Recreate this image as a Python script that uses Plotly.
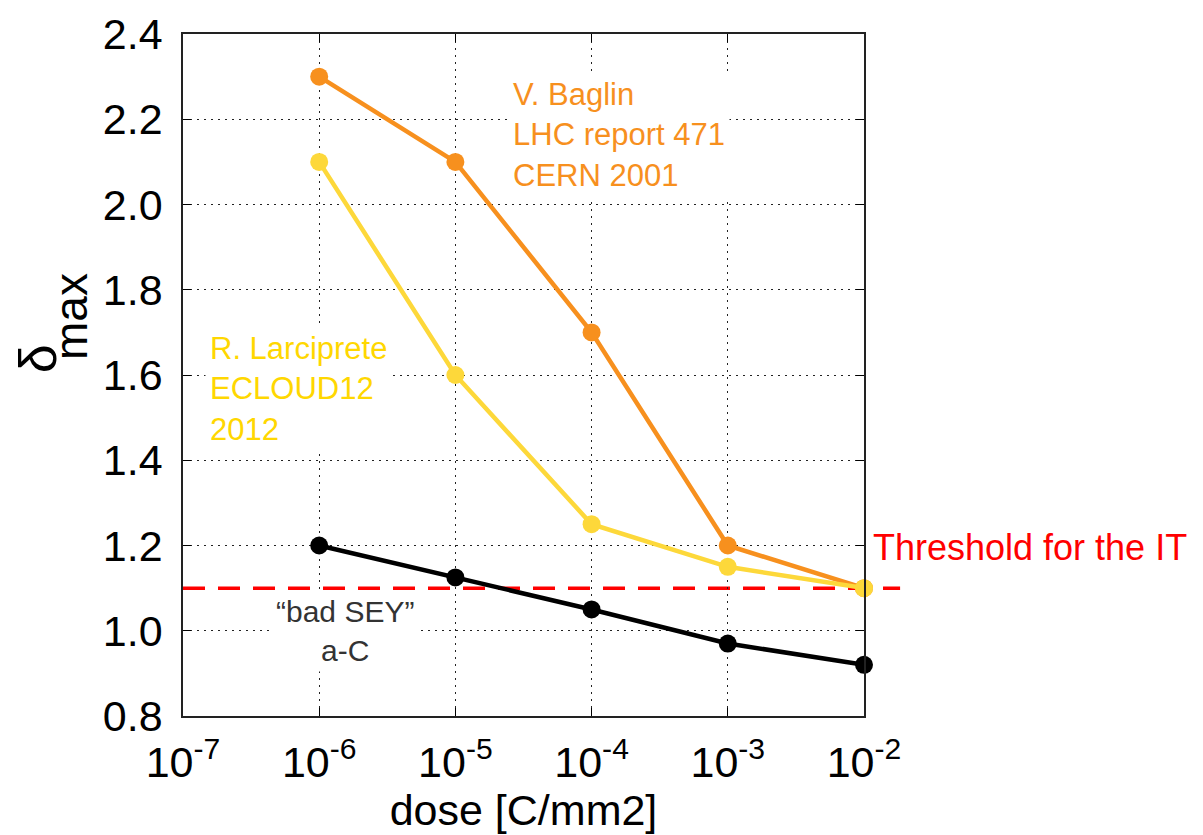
import plotly.graph_objects as go

dose = [1e-6, 1e-5, 1e-4, 1e-3, 1e-2]
baglin = [2.3, 2.1, 1.7, 1.2, 1.1]
larciprete = [2.1, 1.6, 1.25, 1.15, 1.1]
bad_sey = [1.2, 1.125, 1.05, 0.97, 0.92]
threshold = 1.1

x_tickvals = [1e-7, 1e-6, 1e-5, 1e-4, 1e-3, 1e-2]
x_ticktext = ["10<sup>-7</sup>", "10<sup>-6</sup>", "10<sup>-5</sup>",
              "10<sup>-4</sup>", "10<sup>-3</sup>", "10<sup>-2</sup>"]
y_tickvals = [0.8, 1.0, 1.2, 1.4, 1.6, 1.8, 2.0, 2.2, 2.4]
y_ticktext = ["0.8", "1.0", "1.2", "1.4", "1.6", "1.8", "2.0", "2.2", "2.4"]

ORANGE = "#F7901E"
YELLOW = "#FDD83A"
FONT = "Liberation Sans, Arial, sans-serif"
GRID_DASH = "2px,5px"

fig = go.Figure()
fig.add_trace(go.Scatter(x=dose, y=bad_sey, mode="lines+markers", cliponaxis=False,
                         line=dict(color="black", width=4.5),
                         marker=dict(color="black", size=18), showlegend=False))
fig.add_trace(go.Scatter(x=dose, y=baglin, mode="lines+markers", cliponaxis=False,
                         line=dict(color=ORANGE, width=4.5),
                         marker=dict(color=ORANGE, size=18), showlegend=False))
fig.add_trace(go.Scatter(x=dose, y=larciprete, mode="lines+markers", cliponaxis=False,
                         line=dict(color=YELLOW, width=4.5),
                         marker=dict(color=YELLOW, size=18), showlegend=False))

fig.add_shape(type="line", xref="paper", yref="y", x0=0, x1=1.053,
              y0=threshold, y1=threshold, layer="between",
              line=dict(color="#FF0000", width=3.5, dash="22px,13px"))

fig.add_annotation(x=-4.617, y=2.311, xref="x", yref="y",
                   text="V. Baglin<br>LHC report 471<br>CERN 2001",
                   showarrow=False, align="left", xanchor="left", yanchor="top",
                   bgcolor="white", borderpad=4,
                   font=dict(family=FONT, size=31, color=ORANGE))
fig.add_annotation(x=-6.842, y=1.715, xref="x", yref="y",
                   text="R. Larciprete<br>ECLOUD12<br>2012",
                   showarrow=False, align="left", xanchor="left", yanchor="top",
                   bgcolor="white", borderpad=4,
                   font=dict(family=FONT, size=31, color="#FFD700"))
fig.add_annotation(x=-5.81, y=1.0, xref="x", yref="y",
                   text="“bad SEY”<br>a-C",
                   showarrow=False, align="center", xanchor="center", yanchor="middle",
                   bgcolor="white", borderpad=4,
                   font=dict(family=FONT, size=30, color="#333333"))
fig.add_annotation(x=1.01, y=1.195, xref="paper", yref="y",
                   text="Threshold for the IT",
                   showarrow=False, align="left", xanchor="left", yanchor="middle",
                   font=dict(family=FONT, size=36, color="#FF0000"))
# y-axis title: delta with a large "max" subscript
fig.add_annotation(x=-0.2129, y=0.523, xref="paper", yref="paper",
                   text="δ", textangle=-90,
                   showarrow=False, xanchor="center", yanchor="middle",
                   font=dict(family=FONT, size=52, color="black"))
fig.add_annotation(x=-0.1645, y=0.5865, xref="paper", yref="paper",
                   text="max", textangle=-90,
                   showarrow=False, xanchor="center", yanchor="middle",
                   font=dict(family=FONT, size=46, color="black"))

fig.update_xaxes(type="log", range=[-7, -1.9999], tickvals=x_tickvals, ticktext=x_ticktext,
                 showgrid=True, gridcolor="#222222", griddash=GRID_DASH, gridwidth=1,
                 showline=True, linecolor="#222222", linewidth=1.5, mirror="ticks",
                 ticks="inside", ticklen=8, tickcolor="black",
                 ticklabelstandoff=8, automargin=False,
                 tickfont=dict(family=FONT, size=43, color="black"),
                 title=dict(text="dose [C/mm2]", font=dict(family=FONT, size=43, color="black"),
                            standoff=2),
                 zeroline=False)
fig.update_yaxes(range=[0.8, 2.4], tickvals=y_tickvals, ticktext=y_ticktext,
                 showgrid=True, gridcolor="#222222", griddash=GRID_DASH, gridwidth=1,
                 showline=True, linecolor="#222222", linewidth=1.5, mirror="ticks",
                 ticks="inside", ticklen=8, tickcolor="black",
                 ticklabelstandoff=10, automargin=False,
                 tickfont=dict(family=FONT, size=43, color="black"),
                 zeroline=False)

fig.update_layout(width=1203, height=835, plot_bgcolor="white", paper_bgcolor="white",
                  margin=dict(l=175, r=347, t=26, b=127, autoexpand=False),
                  font=dict(family=FONT))

fig.write_html("out.html")
